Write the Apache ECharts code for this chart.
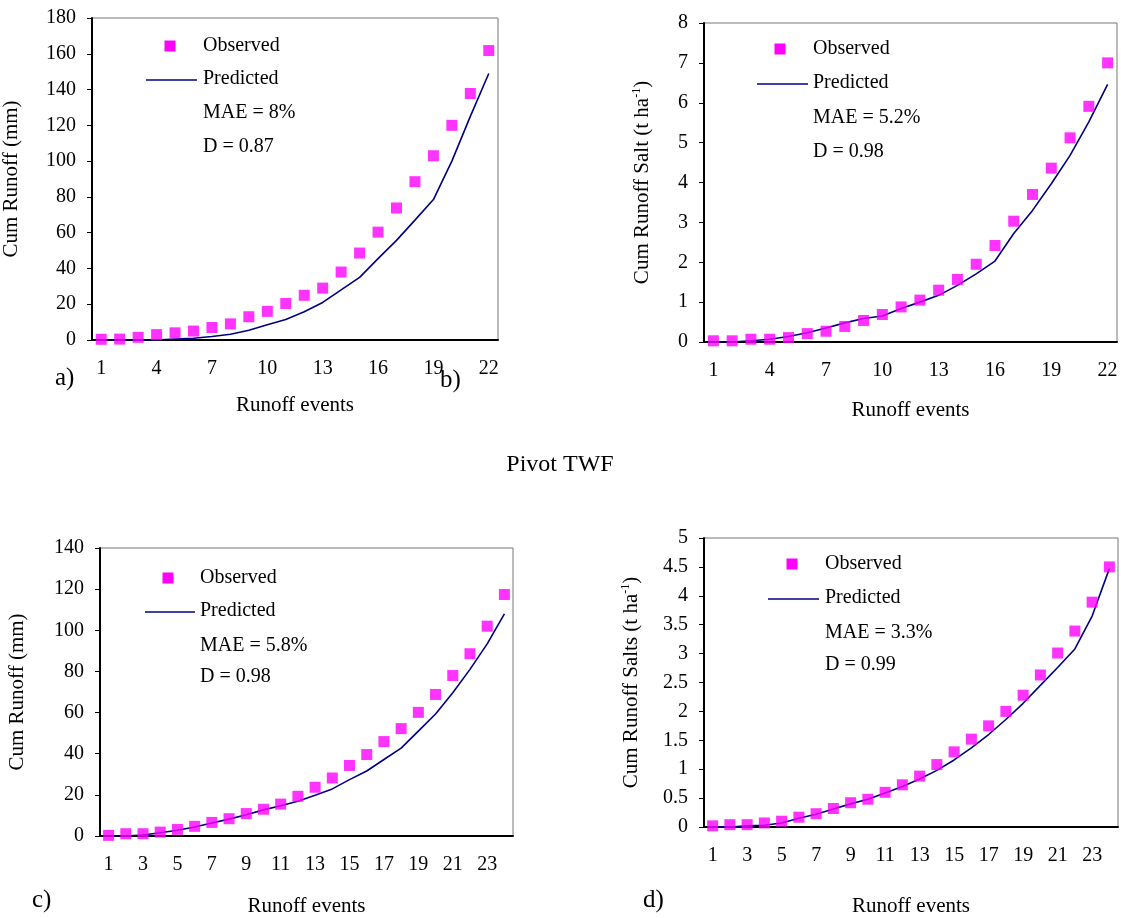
<!DOCTYPE html>
<html>
<head>
<meta charset="utf-8">
<script src="https://cdn.jsdelivr.net/npm/echarts@6/dist/echarts.min.js"></script>
<style>
  html, body { margin: 0; padding: 0; background: #fff; }
  #chart { width: 1121px; height: 918px; }
</style>
</head>
<body>
<div id="chart"></div>
<script>
  // runoff events (x categories)
  var eventsAB = [1,2,3,4,5,6,7,8,9,10,11,12,13,14,15,16,17,18,19,20,21,22];
  var eventsCD = [1,2,3,4,5,6,7,8,9,10,11,12,13,14,15,16,17,18,19,20,21,22,23,24];

  // a) cum runoff (mm)
  var obsA  = [0.4,0.5,1.5,3,4,5,7,9,13,16,20.4,25,29,38,48.6,60.3,73.8,88.5,103,120,137.8,161.8];
  var predA = [0,0,0,0,0.5,1,2,3.2,5.5,8.5,11.5,15.8,21,28,35,45.5,55.7,67,78.5,100,125,149];
  // b) cum runoff salt (t/ha)
  var obsB  = [0.03,0.03,0.07,0.07,0.11,0.21,0.27,0.39,0.54,0.69,0.88,1.05,1.3,1.57,1.95,2.42,3.03,3.7,4.36,5.12,5.91,7.0];
  var predB = [0,0,0.03,0.07,0.14,0.23,0.35,0.48,0.59,0.65,0.84,1.0,1.17,1.42,1.71,2.03,2.72,3.3,3.97,4.68,5.52,6.46];
  // c) cum runoff (mm)
  var obsC  = [0.3,1.1,1.1,1.9,3.2,4.7,6.6,8.4,10.9,13,15.5,19.3,23.7,28.2,34.3,39.6,45.9,52.2,60.1,68.8,78,88.6,102,117.4];
  var predC = [0,0,0.5,1.6,2.8,4.4,6.3,8.2,10.3,12.7,14.7,16.9,19.8,22.9,27.4,31.6,37.2,42.7,51,59.3,69.6,81,93.4,108];
  // d) cum runoff salts (t/ha)
  var obsD  = [0.02,0.04,0.04,0.07,0.1,0.17,0.23,0.32,0.42,0.48,0.6,0.73,0.88,1.08,1.3,1.52,1.75,2.0,2.28,2.63,3.01,3.39,3.89,4.5];
  var predD = [0,0,0.02,0.03,0.07,0.15,0.22,0.31,0.4,0.48,0.59,0.7,0.83,0.98,1.16,1.37,1.6,1.86,2.14,2.45,2.76,3.08,3.65,4.47];

  var statsA = ['MAE = 8%', 'D = 0.87'];
  var statsB = ['MAE = 5.2%', 'D = 0.98'];
  var statsC = ['MAE = 5.8%', 'D = 0.98'];
  var statsD = ['MAE = 3.3%', 'D = 0.99'];

  var FONT = "'Liberation Serif', 'Times New Roman', serif";
  var OBS_COLOR = '#ff00ff';
  var PRED_COLOR = '#000080';

  function xAxis(idx, cats, labelInt, tickInt, gap) {
    return {
      type: 'category', gridIndex: idx, data: cats, boundaryGap: true,
      name: 'Runoff events', nameLocation: 'middle', nameGap: gap,
      nameTextStyle: { fontFamily: FONT, fontSize: 21, color: '#000' },
      axisLine: { lineStyle: { color: '#000', width: 2 } },
      axisTick: { interval: tickInt, length: 5, lineStyle: { color: '#000', width: 1 } },
      axisLabel: { interval: labelInt, margin: 19, fontFamily: FONT, fontSize: 20, color: '#000' },
      splitLine: { show: false }
    };
  }

  function yAxis(idx, max, step, name, gap, rich) {
    return {
      type: 'value', gridIndex: idx, min: 0, max: max, interval: step,
      name: name, nameLocation: 'middle', nameGap: gap, nameRotate: 90,
      nameTextStyle: { fontFamily: FONT, fontSize: 21, color: '#000', rich: rich },
      axisLine: { show: true, lineStyle: { color: '#000', width: 2 } },
      axisTick: { show: true, length: 5, lineStyle: { color: '#000', width: 1 } },
      axisLabel: { margin: 16, fontFamily: FONT, fontSize: 20, color: '#000' },
      splitLine: { show: false }
    };
  }

  function seriesPair(idx, obs, pred) {
    return [
      {
        name: 'Predicted', type: 'line', xAxisIndex: idx, yAxisIndex: idx,
        data: pred, symbol: 'none', z: 2,
        lineStyle: { color: PRED_COLOR, width: 1.6 }
      },
      {
        name: 'Observed', type: 'scatter', xAxisIndex: idx, yAxisIndex: idx,
        data: obs, symbol: 'rect', symbolSize: 11, z: 3,
        itemStyle: { color: OBS_COLOR }
      }
    ];
  }

  // legend block + stats text for one panel
  function legendBlock(sq, textX, ys, lineX, stats) {
    var st = { fontFamily: FONT, fontSize: 20, fill: '#000', verticalAlign: 'middle' };
    return [
      { type: 'rect', shape: { x: sq[0] - 5.5, y: sq[1] - 5.5, width: 11, height: 11 }, style: { fill: OBS_COLOR } },
      { type: 'line', shape: { x1: lineX[0], y1: ys[1] + 1, x2: lineX[1], y2: ys[1] + 1 }, style: { stroke: PRED_COLOR, lineWidth: 1.6 } },
      { type: 'text', x: textX, y: ys[0], style: Object.assign({ text: 'Observed' }, st) },
      { type: 'text', x: textX, y: ys[1], style: Object.assign({ text: 'Predicted' }, st) },
      { type: 'text', x: textX, y: ys[2], style: Object.assign({ text: stats[0] }, st) },
      { type: 'text', x: textX, y: ys[3], style: Object.assign({ text: stats[1] }, st) }
    ];
  }

  function label(text, x, y, size) {
    return { type: 'text', x: x, y: y, style: { text: text, fontFamily: FONT, fontSize: size, fill: '#000', verticalAlign: 'middle' } };
  }

  var supRich = { sup: { fontFamily: FONT, fontSize: 12, color: '#000', verticalAlign: 'top', padding: [0, 0, 10, 0] } };

  var option = {
    backgroundColor: '#fff',
    animation: false,
    grid: [
      { left: 90,  top: 18,  width: 408, height: 322, show: true, borderColor: '#777', borderWidth: 1 },
      { left: 704, top: 23,  width: 413, height: 319, show: true, borderColor: '#777', borderWidth: 1 },
      { left: 100, top: 548, width: 413, height: 295, show: true, borderColor: '#777', borderWidth: 1 },
      { left: 704, top: 538, width: 414, height: 298, show: true, borderColor: '#777', borderWidth: 1 }
    ],
    xAxis: [
      xAxis(0, eventsAB, 2, 2, 55),
      xAxis(1, eventsAB, 2, 2, 58),
      xAxis(2, eventsCD, 1, 0, 60),
      xAxis(3, eventsCD, 1, 0, 69)
    ],
    yAxis: [
      yAxis(0, 180, 20, 'Cum Runoff (mm)', 70),
      yAxis(1, 8, 1, 'Cum Runoff Salt (t ha{sup|-1})', 51, supRich),
      yAxis(2, 140, 20, 'Cum Runoff (mm)', 72),
      yAxis(3, 5, 0.5, 'Cum Runoff Salts (t ha{sup|-1})', 62, supRich)
    ],
    series: [].concat(
      seriesPair(0, obsA, predA),
      seriesPair(1, obsB, predB),
      seriesPair(2, obsC, predC),
      seriesPair(3, obsD, predD)
    ),
    graphic: [].concat(
      legendBlock([170, 46], 203, [46, 79, 113, 147], [146, 197], statsA),
      legendBlock([780, 49], 813, [49, 83, 118, 152], [757, 808], statsB),
      legendBlock([168, 578], 200, [578, 611, 646, 677], [145, 195], statsC),
      legendBlock([792, 564], 825, [564, 598, 633, 665], [768, 819], statsD),
      [
        label('a)', 55, 378, 25),
        label('b)', 440, 380, 25),
        label('c)', 32, 900, 25),
        label('d)', 643, 900, 25),
        { type: 'text', x: 560, y: 465, style: { text: 'Pivot TWF', fontFamily: FONT, fontSize: 24, fill: '#000', align: 'center', verticalAlign: 'middle' } }
      ]
    )
  };

  var chart = echarts.init(document.getElementById('chart'));
  chart.setOption(option);
</script>
</body>
</html>
